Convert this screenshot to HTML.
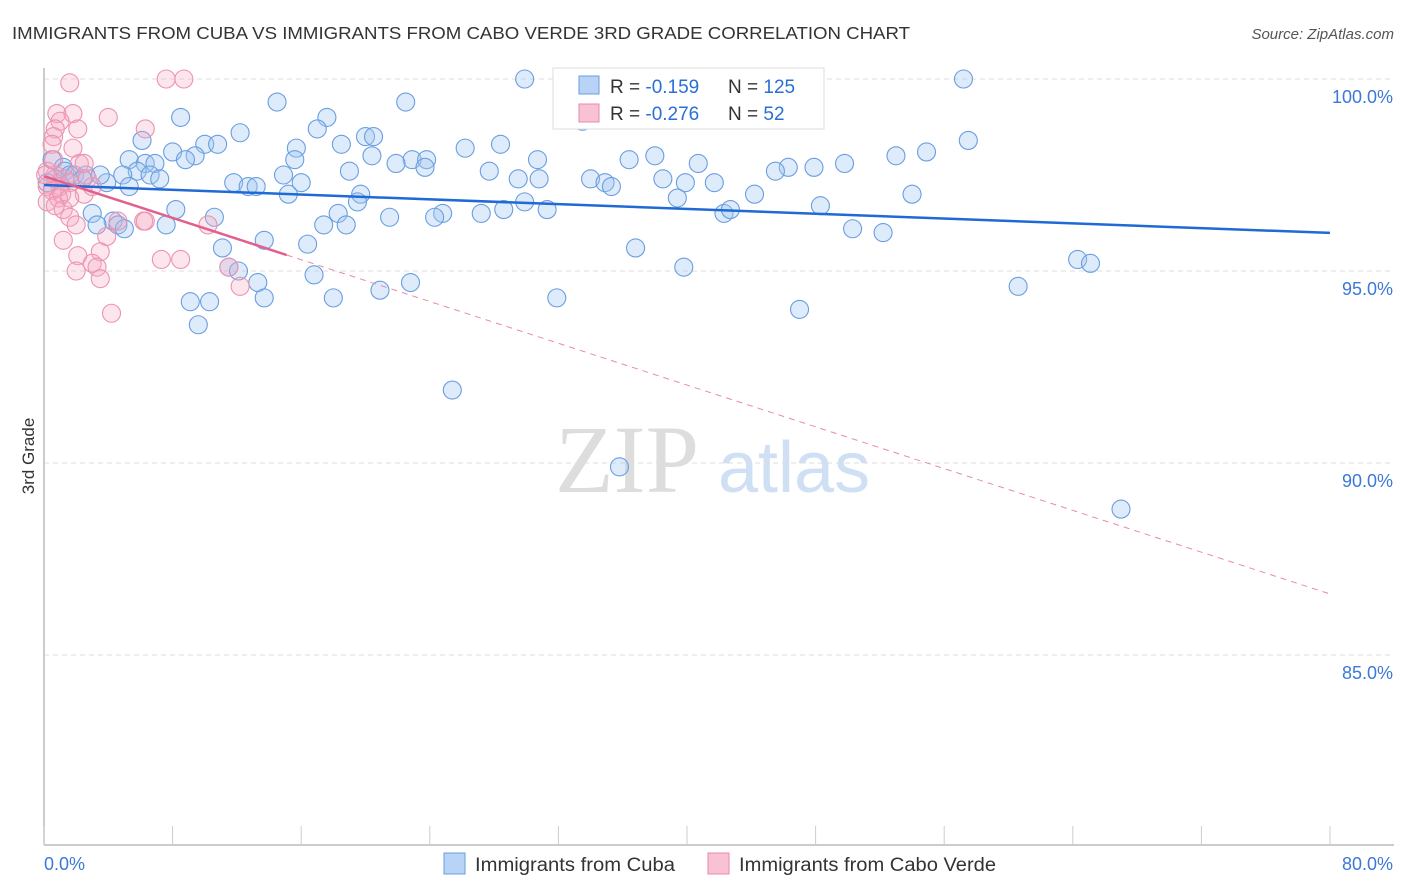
<!DOCTYPE html>
<html><head><meta charset="utf-8">
<style>
body{margin:0;background:#fff;font-family:"Liberation Sans",sans-serif;}
#wrap{position:relative;width:1406px;height:892px;overflow:hidden;}
</style></head>
<body>
<div id="wrap">
<svg id="svg" width="1406" height="892" xmlns="http://www.w3.org/2000/svg">
<text x="12" y="39" font-size="17.5" fill="#333" textLength="898" lengthAdjust="spacingAndGlyphs">IMMIGRANTS FROM CUBA VS IMMIGRANTS FROM CABO VERDE 3RD GRADE CORRELATION CHART</text>
<text x="1394" y="39" font-size="15" fill="#555" text-anchor="end" font-style="italic">Source: ZipAtlas.com</text>
<text x="34" y="456" font-size="17" fill="#333" text-anchor="middle" transform="rotate(-90 34 456)">3rd Grade</text>
<text x="555" y="492" font-size="96" fill="#ddd" font-family="Liberation Serif,serif">ZIP</text>
<text x="718" y="492" font-size="72" fill="#cfe0f5">atlas</text>
<g id="grid"></g>
<g id="axes"></g>
<g id="pts"></g>
<g id="lines"></g>
<g>
<rect x="553" y="68" width="271" height="61" fill="#fff" stroke="#ddd"/>
<rect x="579" y="76" width="20" height="18" fill="#b8d3f5" stroke="#6a9ee0"/>
<rect x="579" y="104" width="20" height="18" fill="#f8c2d3" stroke="#e88aa8"/>
<text x="610" y="93" font-size="19" fill="#333">R = <tspan fill="#2a6fd6">-0.159</tspan></text>
<text x="728" y="93" font-size="19" fill="#333">N = <tspan fill="#2a6fd6">125</tspan></text>
<text x="610" y="120" font-size="19" fill="#333">R = <tspan fill="#2a6fd6">-0.276</tspan></text>
<text x="728" y="120" font-size="19" fill="#333">N = <tspan fill="#2a6fd6"> 52</tspan></text>
</g>
<g>
<rect x="444" y="853" width="21" height="21" fill="#b8d3f5" stroke="#6a9ee0"/>
<text x="475" y="871" font-size="19" fill="#333" textLength="200" lengthAdjust="spacingAndGlyphs">Immigrants from Cuba</text>
<rect x="708" y="853" width="21" height="21" fill="#f8c2d3" stroke="#e88aa8"/>
<text x="739" y="871" font-size="19" fill="#333" textLength="257" lengthAdjust="spacingAndGlyphs">Immigrants from Cabo Verde</text>
</g>
</svg>
</div>
<script>
const yTicks=[100,95,90,85];
const xTickLabels=["0.0%","80.0%"];
const cubaX=[29.9,57.2,14.5,22.5,8.5,17.6,33.5,17.0,12.2,6.1,20.0,20.5,28.4,57.5,10.0,10.8,15.7,26.2,18.5,54.9,8.0,9.4,8.8,5.3,15.6,20.4,53.0,30.7,36.4,38.0,22.9,21.9,23.8,23.7,6.3,6.9,40.7,46.3,47.9,49.8,19.0,5.8,4.9,27.7,45.5,14.9,6.6,7.2,34.0,34.9,38.5,29.5,30.8,11.8,16.0,39.9,41.7,3.9,35.3,5.3,12.7,13.2,19.7,44.2,54.0,15.2,29.9,19.5,39.4,48.3,31.3,8.2,18.3,28.6,3.0,21.5,24.8,27.2,42.3,42.7,24.3,10.6,17.4,18.8,4.3,4.6,3.3,5.0,7.6,50.3,52.2,13.7,16.4,11.1,36.8,64.3,65.1,39.8,11.5,12.1,16.8,13.3,22.8,60.6,20.9,18.0,31.9,10.3,13.7,9.1,47.0,9.6,25.4,35.8,67.0,0.5,1.2,1.3,1.6,0.7,1.9,2.6,0.2,2.4,3.5];
const cubaY=[100.0,100.0,99.4,99.4,99.0,99.0,98.9,98.7,98.6,98.4,98.5,98.5,98.3,98.4,98.3,98.3,98.2,98.2,98.3,98.1,98.1,98.0,97.9,97.9,97.9,98.0,98.0,97.9,97.9,98.0,97.9,97.8,97.9,97.7,97.8,97.8,97.8,97.7,97.7,97.8,97.6,97.6,97.5,97.6,97.6,97.5,97.5,97.4,97.4,97.3,97.4,97.4,97.4,97.3,97.3,97.3,97.3,97.3,97.2,97.2,97.2,97.2,97.0,97.0,97.0,97.0,96.8,96.8,96.9,96.7,96.6,96.6,96.5,96.6,96.5,96.4,96.5,96.5,96.5,96.6,96.4,96.4,96.2,96.2,96.3,96.2,96.2,96.1,96.2,96.1,96.0,95.8,95.7,95.6,95.6,95.3,95.2,95.1,95.1,95.0,94.9,94.7,94.7,94.6,94.5,94.3,94.3,94.2,94.3,94.2,94.0,93.6,91.9,89.9,88.8,97.9,97.7,97.6,97.5,97.4,97.5,97.5,97.3,97.4,97.5];
const caboX=[1.6,7.6,8.7,0.8,1.8,1.0,4.0,0.7,2.1,6.3,0.6,0.5,1.8,2.2,0.2,0.7,1.3,0.2,1.0,1.6,0.5,1.1,2.5,0.2,0.9,1.2,1.6,2.0,6.2,10.2,3.9,1.2,3.5,2.1,7.3,8.5,3.0,3.3,11.5,2.0,3.5,12.2,4.2,0.6,0.1,2.7,3.0,1.6,0.7,4.6,6.3,2.5];
const caboY=[99.9,100,100,99.1,99.1,98.9,99.0,98.7,98.7,98.7,98.5,98.3,98.2,97.8,97.6,97.5,97.4,97.2,97.2,97.3,97.1,97.0,97.0,96.8,96.9,96.6,96.4,96.2,96.3,96.2,95.9,95.8,95.5,95.4,95.3,95.3,95.2,95.1,95.1,95.0,94.8,94.6,93.9,97.9,97.5,97.4,97.2,96.9,96.7,96.3,96.3,97.8];
const cubaTrend=[97.24,-0.0156];
const caboTrend=[97.47,-0.136];
const caboSolidEnd=15.1;

const NS="http://www.w3.org/2000/svg";
const X=v=>44+v*(1286/80);
const Y=v=>79+(100-v)*38.4;
function mk(tag,attrs,parent){const e=document.createElementNS(NS,tag);for(const k in attrs)e.setAttribute(k,attrs[k]);parent.appendChild(e);return e;}
const grid=document.getElementById('grid'),axes=document.getElementById('axes'),pts=document.getElementById('pts'),lines=document.getElementById('lines');
yTicks.forEach(t=>{
  const l=mk('line',{x1:44,x2:1394,y1:Y(t),y2:Y(t),stroke:'#ddd','stroke-dasharray':'5,4'},grid);
  
  
  const tx=mk('text',{x:1393,y:Y(t)+24,'font-size':18,fill:'#3b78d8','text-anchor':'end'},grid);
  tx.textContent=t.toFixed(1)+'%';
  
  
});
const ax=mk('line',{x1:44,x2:1394,y1:845,y2:845,stroke:'#bbb','stroke-width':1.5},axes);


const ay=mk('line',{x1:44,x2:44,y1:68,y2:845,stroke:'#bbb','stroke-width':1.5},axes);


for(let i=0;i<=10;i++){
  const t=mk('line',{x1:X(i*8),x2:X(i*8),y1:826,y2:845,stroke:'#ccc'},axes);
  
  
}
const xl0=mk('text',{x:44,y:870,'font-size':18,fill:'#3b78d8'},axes);xl0.textContent=xTickLabels[0];


const xl1=mk('text',{x:1393,y:870,'font-size':18,fill:'#3b78d8','text-anchor':'end'},axes);xl1.textContent=xTickLabels[1];


cubaX.forEach((v,i)=>{
  const c=mk('circle',{cx:X(v),cy:Y(cubaY[i]),r:9,fill:'rgba(160,198,242,0.35)',stroke:'#6a9ee0','stroke-width':1.1},pts);
  
  
});
caboX.forEach((v,i)=>{
  const c=mk('circle',{cx:X(v),cy:Y(caboY[i]),r:9,fill:'rgba(245,170,195,0.3)',stroke:'#ec93b0','stroke-width':1.1},pts);
  
  
});
const tb=mk('line',{x1:X(0),y1:Y(cubaTrend[0]),x2:X(80),y2:Y(cubaTrend[0]+cubaTrend[1]*80),stroke:'#1f6ad6','stroke-width':2.5},lines);


const tp=mk('line',{x1:X(0),y1:Y(caboTrend[0]),x2:X(caboSolidEnd),y2:Y(caboTrend[0]+caboTrend[1]*caboSolidEnd),stroke:'#e0608e','stroke-width':2.5},lines);


const td=mk('line',{x1:X(caboSolidEnd),y1:Y(caboTrend[0]+caboTrend[1]*caboSolidEnd),x2:X(80),y2:Y(caboTrend[0]+caboTrend[1]*80),stroke:'#e98aaa','stroke-width':1,'stroke-dasharray':'6,5'},lines);


</script>
</body></html>
